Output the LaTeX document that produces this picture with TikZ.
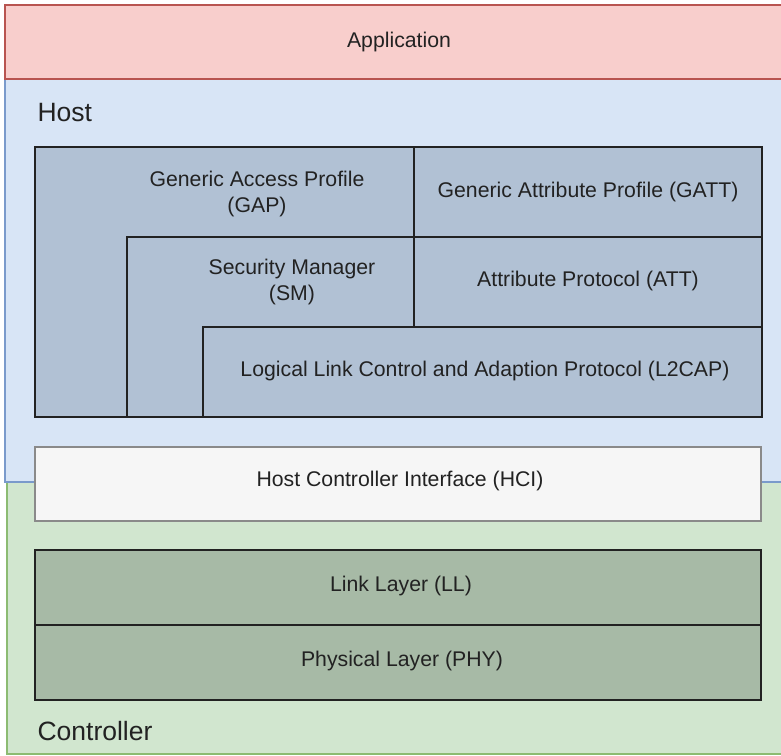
\documentclass[tikz,border=0pt]{standalone}
\usepackage{fontspec}
\setmainfont{Liberation Sans}
\definecolor{appfill}{HTML}{F8CECC}
\definecolor{appline}{HTML}{B85450}
\definecolor{hostfill}{HTML}{D8E5F6}
\definecolor{hostline}{HTML}{7A9ACB}
\definecolor{ctrlfill}{HTML}{D1E6CF}
\definecolor{ctrlline}{HTML}{8CBB72}
\definecolor{stackfill}{HTML}{B1C1D4}
\definecolor{radiofill}{HTML}{A7BAA6}
\definecolor{hcifill}{HTML}{F6F6F6}
\definecolor{hciline}{HTML}{8A8A8A}
\definecolor{ink}{HTML}{222222}
\tikzset{
  every node/.style={text=ink, font=\fontsize{21.25}{26}\selectfont},
  region/.style={line width=2pt},
  layer/.style={draw=ink, line width=1.5pt, fill=stackfill},
  radio/.style={draw=ink, line width=1.5pt, fill=radiofill},
  caption/.style={anchor=west, font=\fontsize{26.5}{30}\selectfont},
  body/.style={align=center, inner sep=0pt},
}
\begin{document}
\begin{tikzpicture}[x=1pt, y=-1pt]
\useasboundingbox (0,0) rectangle (781,755);
\begin{scope}
\clip (0,0) rectangle (781,755);
% outer regions
\draw[region, draw=ctrlline, fill=ctrlfill] (7,482) rectangle (790,754);
\draw[region, draw=hostline, fill=hostfill] (5,79) rectangle (790,482);
\draw[region, draw=appline, fill=appfill] (5,5) rectangle (790,79);
\end{scope}
\node (app) at (399,42) {Application};
\node[caption] (host) at (34,113) {Host};
\node[caption] (ctrl) at (34,731) {Controller};

% host protocol stack
\draw[layer] (35,147) rectangle (762,417);
\draw[layer] (414,147) rectangle (762,237);
\draw[layer] (414,237) rectangle (762,327);
\draw[layer] (127,237) rectangle (414,417);
\draw[layer] (203,327) rectangle (762,417);
\node[body] (gap) at (257,194) {Generic Access Profile\\(GAP)};
\node[body] (gatt) at (588,192) {Generic Attribute Profile (GATT)};
\node[body] (sm) at (292,282) {Security Manager\\(SM)};
\node[body] (att) at (588,281) {Attribute Protocol (ATT)};
\node[body] (l2cap) at (485,371) {Logical Link Control and Adaption Protocol (L2CAP)};

% host controller interface
\draw[line width=1.5pt, draw=hciline, fill=hcifill] (35,447) rectangle (761,521);
\node[body] (hci) at (400,481) {Host Controller Interface (HCI)};

% controller layers
\draw[radio] (35,550) rectangle (761,625);
\draw[radio] (35,625) rectangle (761,700);
\node[body] (ll) at (401,586) {Link Layer (LL)};
\node[body] (phy) at (402,661) {Physical Layer (PHY)};
\end{tikzpicture}
\end{document}
